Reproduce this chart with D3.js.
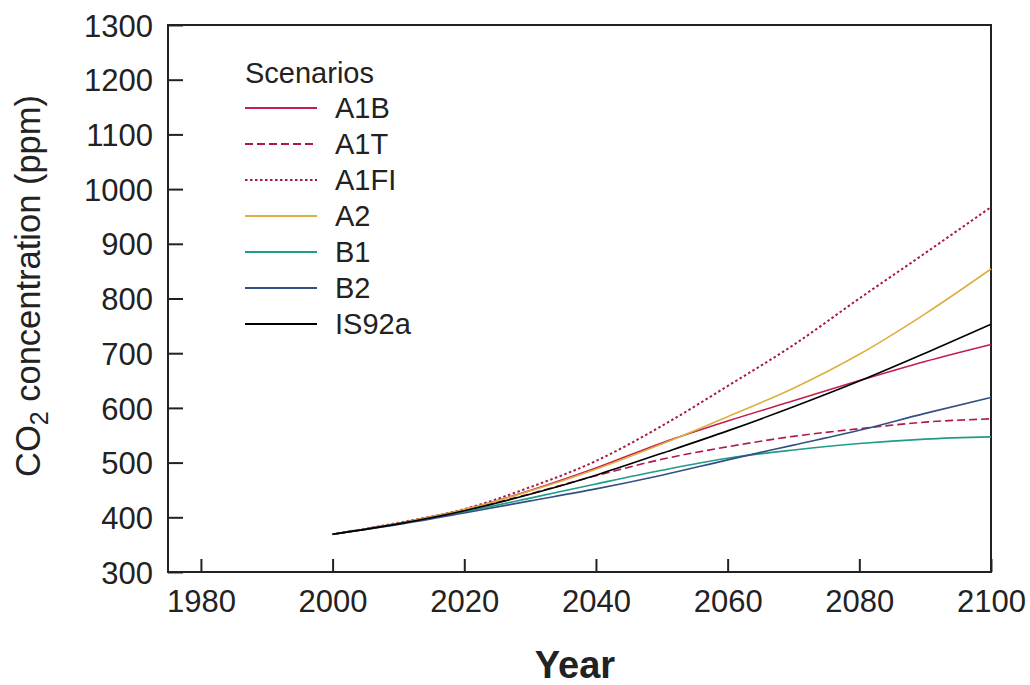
<!DOCTYPE html>
<html>
<head>
<meta charset="utf-8">
<script src="https://cdn.jsdelivr.net/npm/d3@7"></script>
<style>
  body { margin: 0; background: #fff; }
  text { font-family: "Liberation Sans", Arial, sans-serif; fill: #222; }
</style>
</head>
<body>
<script>
// data, ppm by decade
var years = [2000, 2010, 2020, 2030, 2040, 2050, 2060, 2070, 2080, 2090, 2100];
var a1b   = [369, 389, 414, 449, 490, 536, 576, 613, 650, 685, 716];
var a1t   = [369, 389, 413, 443, 476, 506, 529, 548, 562, 574, 580];
var a1fi  = [369, 390, 415, 455, 503, 567, 640, 715, 800, 883, 967];
var a2    = [369, 389, 414, 448, 488, 534, 584, 636, 698, 772, 854];
var b1    = [369, 388, 410, 435, 461, 486, 508, 523, 535, 543, 547];
var b2    = [369, 387, 408, 430, 452, 477, 505, 532, 559, 590, 619];
var is92a = [369, 388, 412, 442, 477, 517, 558, 602, 649, 700, 753];

var names = ["A1B", "A1T", "A1FI", "A2", "B1", "B2", "IS92a"];
var xTicks = [1980, 2000, 2020, 2040, 2060, 2080, 2100];
var yTicks = [300, 400, 500, 600, 700, 800, 900, 1000, 1100, 1200, 1300];

var series = [
  {name: "A1B", vals: a1b, color: "#c41e4e", dash: null, w: 1.6},
  {name: "A1T", vals: a1t, color: "#b0184a", dash: "8,4", w: 1.6},
  {name: "A1FI", vals: a1fi, color: "#a8184a", dash: "2.5,2.5", w: 2},
  {name: "A2", vals: a2, color: "#dcb040", dash: null, w: 1.6},
  {name: "B1", vals: b1, color: "#1f9c88", dash: null, w: 1.6},
  {name: "B2", vals: b2, color: "#334f86", dash: null, w: 1.6},
  {name: "IS92a", vals: is92a, color: "#000", dash: null, w: 1.6}
];

var W = 1030, H = 685;
var pL = 168, pT = 25, pR = 991, pB = 572;

var svg = d3.select("body").append("svg")
  .attr("width", W)
  .attr("height", H);

var x = d3.scaleLinear().domain([1975, 2100]).range([pL, pR]);
var y = d3.scaleLinear().domain([300, 1300]).range([pB, pT]);

// axes, ticks point inward
var xAxis = svg.append("g")
  .attr("transform", "translate(0," + pB + ")")
  .call(d3.axisBottom(x).tickValues(xTicks).tickFormat(d3.format("d"))
    .tickSize(-13).tickPadding(18));
var yAxis = svg.append("g")
  .attr("transform", "translate(" + pL + ",0)")
  .call(d3.axisLeft(y).tickValues(yTicks).tickFormat(d3.format("d"))
    .tickSize(-15).tickPadding(15));

[xAxis, yAxis].forEach(function(g) {
  g.select(".domain").remove();
  g.selectAll(".tick line").attr("stroke", "#222").attr("stroke-width", 2);
  g.selectAll(".tick text")
    .style("font-family", "'Liberation Sans', Arial, sans-serif")
    .style("font-size", "31px")
    .attr("fill", "#222");
});
yAxis.selectAll(".tick text").attr("dy", "0.36em");
xAxis.selectAll(".tick text").attr("dy", "0.72em");

svg.append("rect")
  .attr("x", pL).attr("y", pT)
  .attr("width", pR - pL).attr("height", pB - pT)
  .attr("fill", "none").attr("stroke", "#222").attr("stroke-width", 2);

var line = d3.line()
  .x(function(d, i) { return x(years[i]); })
  .y(function(d) { return y(d); })
  .curve(d3.curveMonotoneX);

svg.selectAll("path.series")
  .data(series)
  .enter()
  .append("path")
  .attr("class", "series")
  .attr("d", function(s) { return line(s.vals); })
  .attr("fill", "none")
  .attr("stroke", function(s) { return s.color; })
  .attr("stroke-width", function(s) { return s.w; })
  .attr("stroke-dasharray", function(s) { return s.dash; });

// legend
var lg = svg.append("g");
lg.append("text")
  .attr("x", 245).attr("y", 83)
  .style("font-size", "29px")
  .text("Scenarios");

var rows = lg.selectAll("g.row")
  .data(series)
  .enter()
  .append("g")
  .attr("class", "row")
  .attr("transform", function(d, i) { return "translate(0," + (108 + i * 36) + ")"; });
rows.append("line")
  .attr("x1", 245).attr("x2", 317)
  .attr("stroke", function(s) { return s.color; })
  .attr("stroke-width", function(s) { return s.w + 0.2; })
  .attr("stroke-dasharray", function(s) { return s.dash; });
rows.append("text")
  .attr("x", 335).attr("y", 10)
  .style("font-size", "29px")
  .text(function(s) { return s.name; });

// axis titles
var yt = svg.append("text")
  .attr("transform", "translate(40,286) rotate(-90)")
  .attr("text-anchor", "middle")
  .style("font-size", "34.5px");
yt.append("tspan").text("CO");
yt.append("tspan").attr("dy", 8).style("font-size", "25px").text("2");
yt.append("tspan").attr("dy", -8).text(" concentration (ppm)");

svg.append("text")
  .attr("x", 575).attr("y", 678)
  .attr("text-anchor", "middle")
  .style("font-size", "38px")
  .style("font-weight", "bold")
  .text("Year");
</script>
</body>
</html>
